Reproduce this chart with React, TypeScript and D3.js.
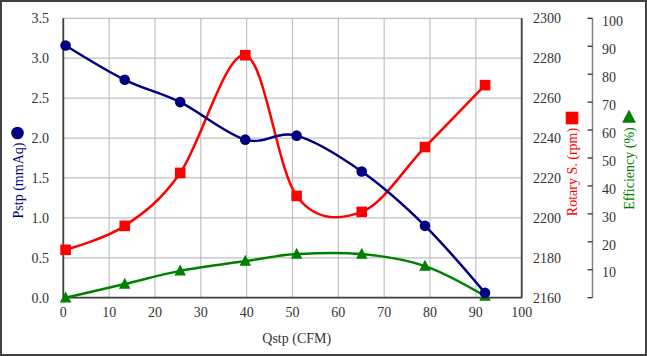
import React from "react";
import * as d3 from "d3";

const flow = [0.5, 13.4, 25.5, 39.7, 50.9, 65.1, 78.9, 92.0];
const pstp = [3.16, 2.73, 2.45, 1.98, 2.03, 1.58, 0.9, 0.06];
const rotary = [2184, 2196, 2222.5, 2281.5, 2211, 2203, 2235.5, 2266.5];
const efficiency = [0, 4.9, 9.6, 13.1, 15.6, 15.6, 11.3, 0.6];

const xTicks = [0, 10, 20, 30, 40, 50, 60, 70, 80, 90, 100];
const pTicks = [0, 0.5, 1, 1.5, 2, 2.5, 3, 3.5];
const rTicks = [2160, 2180, 2200, 2220, 2240, 2260, 2280, 2300];
const eTicks = [0, 10, 20, 30, 40, 50, 60, 70, 80, 90, 100];

const W = 647, H = 356;
const L = 63.3, R = 521.7, T = 18.3, B = 297.7;
const FONT = "'Liberation Serif', 'Times New Roman', serif";

export default function App() {
  const x = d3.scaleLinear().domain([0, 100]).range([L, R]);
  const yP = d3.scaleLinear().domain([0, 3.5]).range([B, T]);
  const yR = d3.scaleLinear().domain([2160, 2300]).range([B, T]);
  const yE = d3.scaleLinear().domain([0, 100]).range([B, T]);
  const eAxisX = 592.5;

  const curve = d3.curveCardinal.tension(0);
  const lineP = d3.line<number>().x((_, i) => x(flow[i])).y((d) => yP(d)).curve(curve);
  const lineR = d3.line<number>().x((_, i) => x(flow[i])).y((d) => yR(d)).curve(curve);
  const lineE = d3.line<number>().x((_, i) => x(flow[i])).y((d) => yE(d)).curve(curve);

  const tri = (cx: number, cy: number, s: number) =>
    `M${cx},${cy - s * 0.6}L${cx + s * 0.55},${cy + s * 0.45}L${cx - s * 0.55},${cy + s * 0.45}Z`;

  return (
    <svg width={W} height={H} style={{ position: "absolute", left: 0, top: 0, background: "#fff" }} fontFamily={FONT}>
      <rect x={1} y={1} width={W - 2} height={H - 2} fill="#fff" stroke="#404040" strokeWidth={2} />
      {/* gridlines */}
      {pTicks.map((t) => (
        <line key={"h" + t} x1={L} x2={R} y1={yP(t)} y2={yP(t)} stroke="#c0c0c0" strokeWidth={1.2} />
      ))}
      {xTicks.map((t) => (
        <line key={"v" + t} x1={x(t)} x2={x(t)} y1={T} y2={B} stroke="#c0c0c0" strokeWidth={1.2} />
      ))}
      {/* axes */}
      <line x1={L} x2={L} y1={T} y2={B} stroke="#404040" strokeWidth={1.8} />
      <line x1={R} x2={R} y1={T} y2={B} stroke="#404040" strokeWidth={1.8} />
      <line x1={L} x2={R} y1={B} y2={B} stroke="#404040" strokeWidth={1.8} />
      <line x1={eAxisX} x2={eAxisX} y1={yE(100)} y2={yE(0)} stroke="#808080" strokeWidth={1.5} />
      {eTicks.map((t) => (
        <line key={"et" + t} x1={eAxisX - 5} x2={eAxisX} y1={yE(t)} y2={yE(t)} stroke="#222" strokeWidth={1.2} />
      ))}

      {/* tick labels */}
      {pTicks.map((t) => (
        <text key={"pl" + t} x={49} y={yP(t)} dy="0.35em" textAnchor="end" fontSize={14} fill="#333">
          {t.toFixed(1)}
        </text>
      ))}
      {rTicks.map((t) => (
        <text key={"rl" + t} x={533} y={yR(t)} dy="0.35em" textAnchor="start" fontSize={14} fill="#333">
          {t}
        </text>
      ))}
      {eTicks.filter((t) => t > 0).map((t) => (
        <text key={"el" + t} x={602} y={yE(t)} dy="0.55em" textAnchor="start" fontSize={14} fill="#333">
          {t}
        </text>
      ))}
      {xTicks.map((t) => (
        <text key={"xl" + t} x={x(t)} y={312} dy="0.35em" textAnchor="middle" fontSize={14} fill="#333">
          {t}
        </text>
      ))}

      {/* titles */}
      <text x={296.7} y={338} dy="0.35em" textAnchor="middle" fontSize={14} fill="#333">Qstp (CFM)</text>
      <text transform="translate(18,180.5) rotate(-90)" dy="0.35em" textAnchor="middle" fontSize={14} fill="#000080">Pstp (mmAq)</text>
      <circle cx={17.5} cy={133} r={6.3} fill="#000080" />
      <text transform="translate(572.5,172) rotate(-90)" dy="0.35em" textAnchor="middle" fontSize={14} fill="#ff0000">Rotary S. (rpm)</text>
      <rect x={572 - 6.3} y={118 - 6.3} width={12.6} height={12.6} fill="#ff0000" />
      <text transform="translate(629,168.5) rotate(-90)" dy="0.35em" textAnchor="middle" fontSize={14} fill="#008000">Efficiency (%)</text>
      <path d={tri(629, 117, 12.5)} fill="#008000" />

      {/* series */}
      <path d={lineE(efficiency) || ""} fill="none" stroke="#008000" strokeWidth={2.5} />
      <path d={lineR(rotary) || ""} fill="none" stroke="#ff0000" strokeWidth={2.5} />
      <path d={lineP(pstp) || ""} fill="none" stroke="#000080" strokeWidth={2.5} />
      {efficiency.map((v, i) => (
        <path key={"e" + i} d={tri(x(flow[i]), yE(v), 10.5)} fill="#008000" />
      ))}
      {rotary.map((v, i) => (
        <rect key={"r" + i} x={x(flow[i]) - 5.3} y={yR(v) - 5.3} width={10.6} height={10.6} fill="#ff0000" />
      ))}
      {pstp.map((v, i) => (
        <circle key={"p" + i} cx={x(flow[i])} cy={yP(v)} r={5.3} fill="#000080" />
      ))}
    </svg>
  );
}
